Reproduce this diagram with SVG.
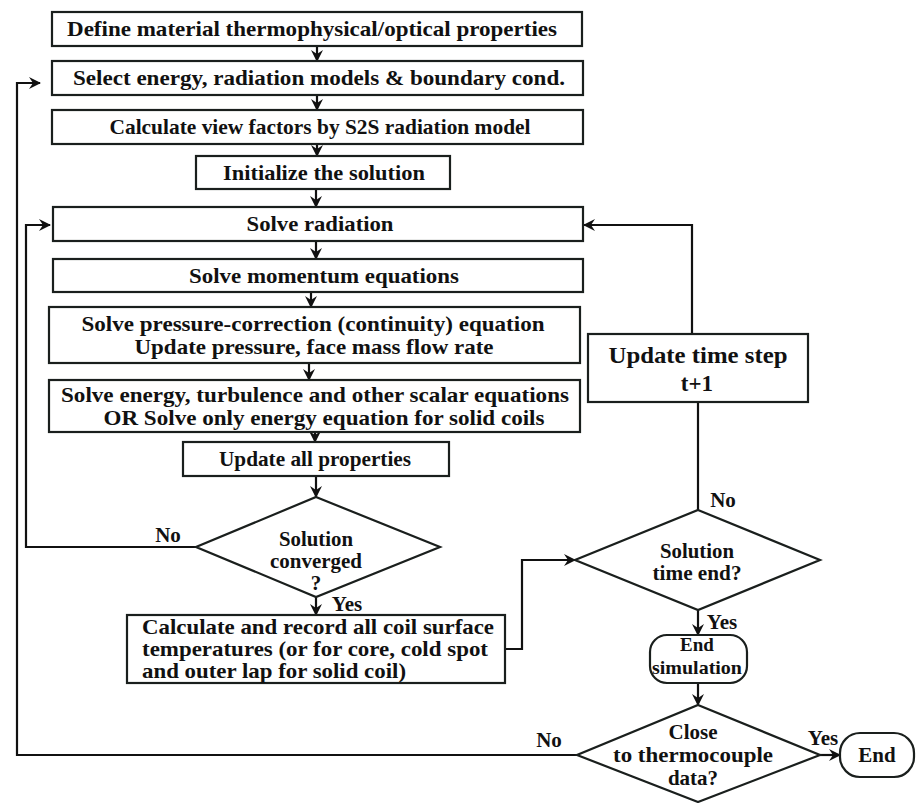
<svg xmlns="http://www.w3.org/2000/svg" width="916" height="803" viewBox="0 0 916 803">
<style>
.b{fill:#fff;stroke:#1a1f1d;stroke-width:2.2}
.c{fill:none;stroke:#111;stroke-width:2.2}
.t{font-family:"Liberation Serif","DejaVu Serif","Times New Roman",serif;font-weight:700;font-size:21px;fill:#111;text-anchor:middle}
.l{text-anchor:start}
.s{font-size:19px}
</style>
<defs>
<marker id="a" viewBox="0 0 12 12" refX="11" refY="6" markerWidth="12" markerHeight="12" markerUnits="userSpaceOnUse" orient="auto">
<path d="M0,0 L12,6 L0,12 L4,6 z" fill="#111"/>
</marker>
</defs>
<rect width="916" height="803" fill="#fff"/>
<g id="connectors">
<line class="c" x1="317" y1="46" x2="317" y2="61" marker-end="url(#a)"/>
<line class="c" x1="317" y1="95" x2="317" y2="110" marker-end="url(#a)"/>
<line class="c" x1="317" y1="144" x2="317" y2="156" marker-end="url(#a)"/>
<line class="c" x1="316" y1="189" x2="316" y2="207" marker-end="url(#a)"/>
<line class="c" x1="316" y1="241" x2="316" y2="259" marker-end="url(#a)"/>
<line class="c" x1="311" y1="292" x2="311" y2="307" marker-end="url(#a)"/>
<line class="c" x1="309" y1="363" x2="309" y2="380" marker-end="url(#a)"/>
<line class="c" x1="315" y1="432" x2="315" y2="442" marker-end="url(#a)"/>
<line class="c" x1="316" y1="476" x2="316" y2="497" marker-end="url(#a)"/>
<line class="c" x1="316" y1="597" x2="316" y2="615" marker-end="url(#a)"/>
<polyline class="c" points="196,547 26,547 26,225 50,225" marker-end="url(#a)"/>
<polyline class="c" points="505,649 522,649 522,560 575,560" marker-end="url(#a)"/>
<line class="c" x1="698" y1="510" x2="698" y2="402"/>
<polyline class="c" points="692,334 692,225 584,225" marker-end="url(#a)"/>
<line class="c" x1="698" y1="610" x2="698" y2="635" marker-end="url(#a)"/>
<line class="c" x1="698" y1="683" x2="698" y2="705" marker-end="url(#a)"/>
<polyline class="c" points="577,755 17,755 17,83 40,83" marker-end="url(#a)"/>
<line class="c" x1="820" y1="755" x2="840" y2="755" marker-end="url(#a)"/>
<text class="t" x="168" y="542">No</text>
<text class="t" x="347" y="611">Yes</text>
<text class="t" x="723" y="507">No</text>
<text class="t" x="722" y="629">Yes</text>
<text class="t" x="549" y="747">No</text>
<text class="t" x="823" y="745">Yes</text>
</g>
<g id="n1"><rect class="b" x="52" y="12" width="530" height="34"/>
<text class="t" x="312" y="36" textLength="490" lengthAdjust="spacingAndGlyphs">Define material thermophysical/optical properties</text></g>
<g id="n2"><rect class="b" x="52" y="61" width="531" height="34"/>
<text class="t" x="319" y="85" textLength="492" lengthAdjust="spacingAndGlyphs">Select energy, radiation models &amp; boundary cond.</text></g>
<g id="n3"><rect class="b" x="52" y="110" width="531" height="34"/>
<text class="t" x="320" y="134" textLength="421" lengthAdjust="spacingAndGlyphs">Calculate view factors by S2S radiation model</text></g>
<g id="n4"><rect class="b" x="196" y="156" width="254" height="33"/>
<text class="t" x="324" y="180" textLength="202" lengthAdjust="spacingAndGlyphs">Initialize the solution</text></g>
<g id="n5"><rect class="b" x="53" y="207" width="530" height="34"/>
<text class="t" x="320" y="231" textLength="147" lengthAdjust="spacingAndGlyphs">Solve radiation</text></g>
<g id="n6"><rect class="b" x="53" y="259" width="530" height="33"/>
<text class="t" x="324" y="283" textLength="270" lengthAdjust="spacingAndGlyphs">Solve momentum equations</text></g>
<g id="n7"><rect class="b" x="49" y="307" width="531" height="56"/>
<text class="t" x="313" y="331" textLength="463" lengthAdjust="spacingAndGlyphs">Solve pressure-correction (continuity) equation</text>
<text class="t" x="314" y="354" textLength="359" lengthAdjust="spacingAndGlyphs">Update pressure, face mass flow rate</text></g>
<g id="n8"><rect class="b" x="49" y="380" width="531" height="52"/>
<text class="t" x="315" y="402" textLength="508" lengthAdjust="spacingAndGlyphs">Solve energy, turbulence and other scalar equations</text>
<text class="t" x="324" y="425" textLength="441" lengthAdjust="spacingAndGlyphs">OR Solve only energy equation for solid coils</text></g>
<g id="n9"><rect class="b" x="183" y="442" width="266" height="34"/>
<text class="t" x="315" y="466" textLength="192" lengthAdjust="spacingAndGlyphs">Update all properties</text></g>
<g id="n10"><polygon class="b" points="316,497 440,547 316,597 196,547"/>
<text class="t" x="316" y="546" textLength="74" lengthAdjust="spacingAndGlyphs">Solution</text>
<text class="t" x="316" y="568" textLength="92" lengthAdjust="spacingAndGlyphs">converged</text>
<text class="t" x="316" y="590">?</text></g>
<g id="n11"><rect class="b" x="127" y="615" width="378" height="68"/>
<text class="t l" x="142" y="634" textLength="352" lengthAdjust="spacingAndGlyphs">Calculate and record all coil surface</text>
<text class="t l" x="142" y="656" textLength="346" lengthAdjust="spacingAndGlyphs">temperatures (or for core, cold spot</text>
<text class="t l" x="142" y="678" textLength="264" lengthAdjust="spacingAndGlyphs">and outer lap for solid coil)</text></g>
<g id="n12"><rect class="b" x="588" y="334" width="220" height="68"/>
<text class="t" x="698" y="363" style="font-size:23px" textLength="179" lengthAdjust="spacingAndGlyphs">Update time step</text>
<text class="t" x="697" y="391" style="font-size:23px">t+1</text></g>
<g id="n13"><polygon class="b" points="698,510 820,560 698,610 575,560"/>
<text class="t" x="697" y="558" textLength="74" lengthAdjust="spacingAndGlyphs">Solution</text>
<text class="t" x="697" y="580" textLength="89" lengthAdjust="spacingAndGlyphs">time end?</text></g>
<g id="n14"><rect class="b" x="650" y="635" width="97" height="48" rx="17"/>
<text class="t s" x="697" y="651">End</text>
<text class="t s" x="697" y="674" textLength="90" lengthAdjust="spacingAndGlyphs">simulation</text></g>
<g id="n15"><polygon class="b" points="698,705 820,755 698,802 577,755"/>
<text class="t" x="693" y="739">Close</text>
<text class="t" x="693" y="762" textLength="160" lengthAdjust="spacingAndGlyphs">to thermocouple</text>
<text class="t" x="693" y="785">data?</text></g>
<g id="n16"><rect class="b" x="840" y="733" width="74" height="44" rx="20"/>
<text class="t" x="877" y="762">End</text></g>
</svg>
